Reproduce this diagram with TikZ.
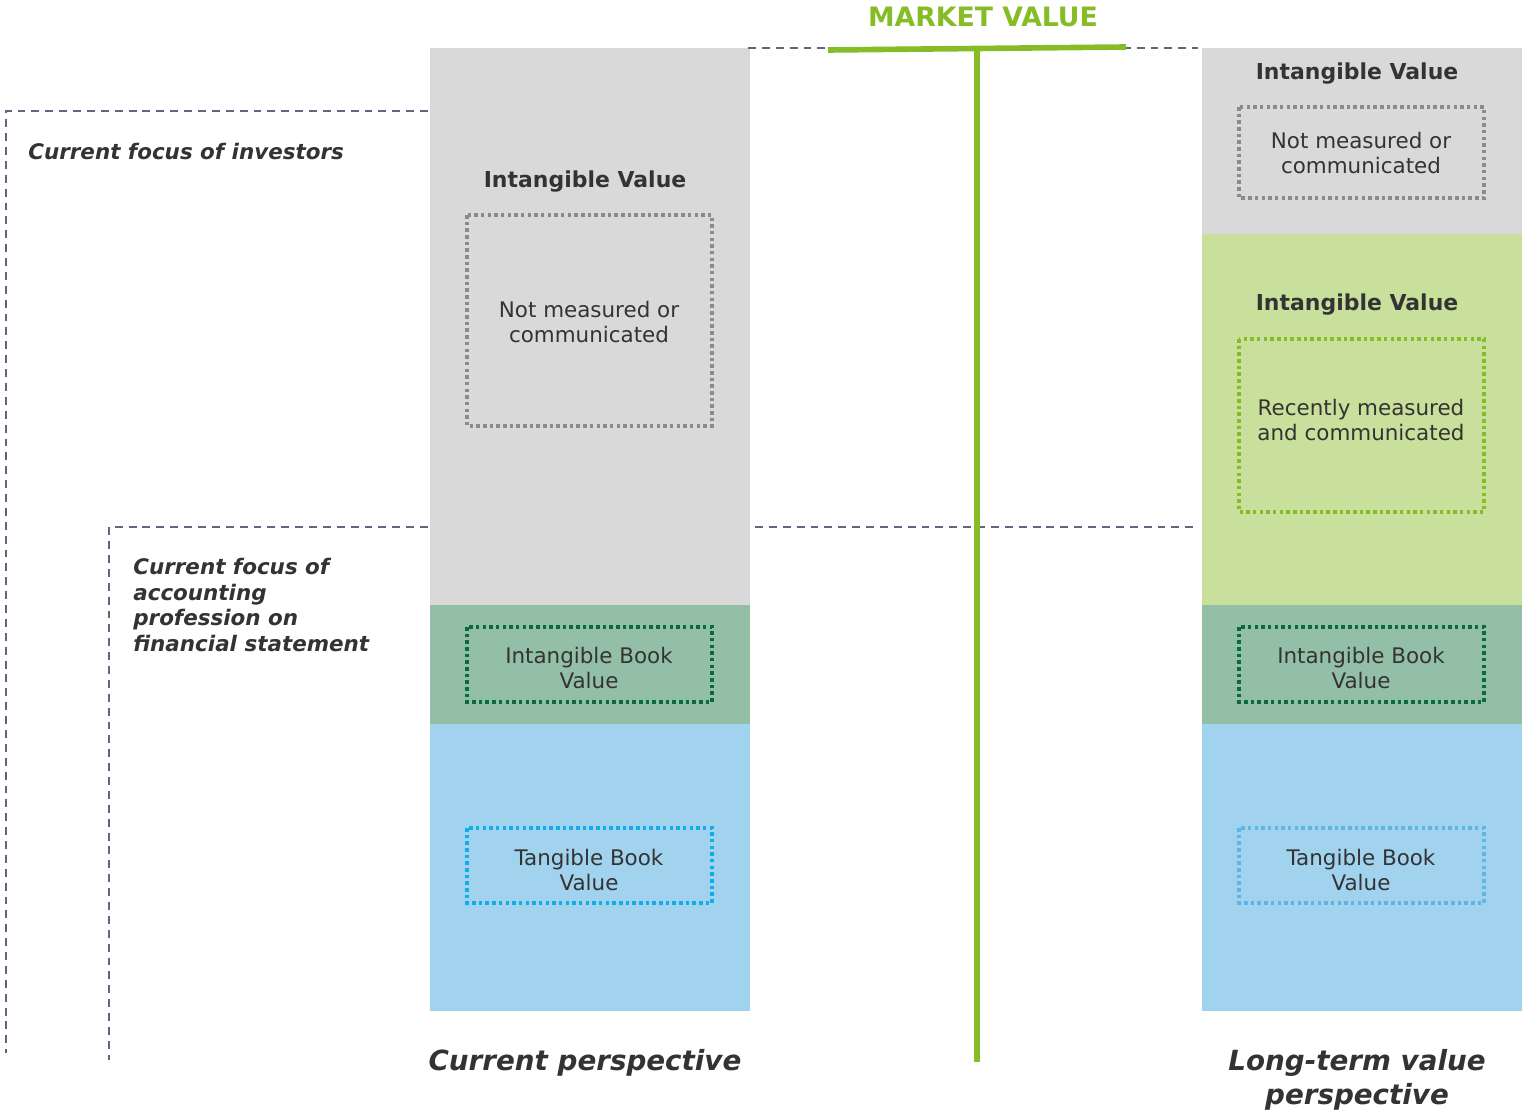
\documentclass[tikz,border=0pt]{standalone}
\usepackage{fontspec}
\setmainfont{DejaVu Sans}

\definecolor{bandgray}{HTML}{D9D9D9}
\definecolor{bandlime}{HTML}{C8E09B}
\definecolor{bandteal}{HTML}{93BFA6}
\definecolor{bandblue}{HTML}{A1D3EE}
\definecolor{mkgreen}{HTML}{86BC25}
\definecolor{edgegray}{HTML}{8A8A8A}
\definecolor{edgeteal}{HTML}{0B6B3A}
\definecolor{edgeblue}{HTML}{12AEEA}
\definecolor{edgesky}{HTML}{5DB6E6}
\definecolor{guide}{HTML}{5B6880}
\definecolor{ink}{HTML}{333333}

\tikzset{
  guideline/.style={guide, line width=0.95pt, dash pattern=on 4.5pt off 3.4pt},
  dotbox/.style={draw=#1, line width=2pt, dash pattern=on 2pt off 1.8pt},
  body/.style={text=ink, align=center, inner sep=0pt, font=\fontsize{12.2}{14.6}\selectfont},
  title/.style={text=ink, inner sep=0pt, font=\fontsize{12.5}{14.6}\selectfont\bfseries},
  remark/.style={text=ink, align=left, inner sep=0pt, font=\fontsize{12.2}{14.6}\selectfont\bfseries\itshape},
  caption/.style={text=ink, align=center, inner sep=0pt, font=\fontsize{15.8}{19.3}\selectfont\bfseries\itshape}
}

\begin{document}
\begin{tikzpicture}[x=0.02cm, y=-0.02cm]
\useasboundingbox (0,0) rectangle (1525,1111);

% current perspective column
\fill [bandgray] (430,48) rectangle (750,605);
\fill [bandteal] (430,605) rectangle (750,724);
\fill [bandblue] (430,724) rectangle (750,1011);

% long-term column
\fill [bandgray] (1202,48) rectangle (1522,234);
\fill [bandlime] (1202,234) rectangle (1522,605);
\fill [bandteal] (1202,605) rectangle (1522,724);
\fill [bandblue] (1202,724) rectangle (1522,1011);

% dotted frames
\draw [dotbox=edgegray] (467,215) rectangle (712,426);
\draw [dotbox=edgeteal] (467,627) rectangle (712,702);
\draw [dotbox=edgeblue] (467,828) rectangle (712,903);
\draw [dotbox=edgegray] (1239,107) rectangle (1484,198);
\draw [dotbox=mkgreen] (1239,339) rectangle (1484,512);
\draw [dotbox=edgeteal] (1239,627) rectangle (1484,702);
\draw [dotbox=edgesky] (1239,828) rectangle (1484,903);

% guide lines
\draw [guideline] (748,48) -- (1198,48);
\draw [guideline] (755,527) -- (1198,527);
\draw [guideline] (428,111) -- (6,111) -- (6,1053);
\draw [guideline] (428,527) -- (109,527) -- (109,1060);

% market value bar
\draw [mkgreen, line width=3.2pt] (828,50) -- (1126,47);
\draw [mkgreen, line width=3.2pt] (977,49) -- (977,1062);
\node (mv) [text=mkgreen, inner sep=0pt, font=\fontsize{15.2}{18}\selectfont\bfseries] at (983,17) {MARKET VALUE};

% labels, left column
\node (cIV) [title] at (585,182) {Intangible Value};
\node (cNM) [body] at (589,322) {Not measured or\\communicated};
\node (cIB) [body] at (589,668) {Intangible Book\\Value};
\node (cTB) [body] at (589,870) {Tangible Book\\Value};

% labels, right column
\node (lIV) [title] at (1357,74) {Intangible Value};
\node (lNM) [body] at (1361,153) {Not measured or\\communicated};
\node (lIV2) [title] at (1357,305) {Intangible Value};
\node (lRM) [body] at (1361,420) {Recently measured\\and communicated};
\node (lIB) [body] at (1361,668) {Intangible Book\\Value};
\node (lTB) [body] at (1361,870) {Tangible Book\\Value};

% side remarks
\node (inv) [remark, anchor=west] at (28,152) {Current focus of investors};
\node (acc) [remark, anchor=west] at (133,605) {Current focus of\\accounting\\profession on\\financial statement};

% captions
\node (cur) [caption] at (585,1063) {Current perspective};
\node (ltv) [caption] at (1357,1080) {Long-term value\\perspective};
\end{tikzpicture}
\end{document}
